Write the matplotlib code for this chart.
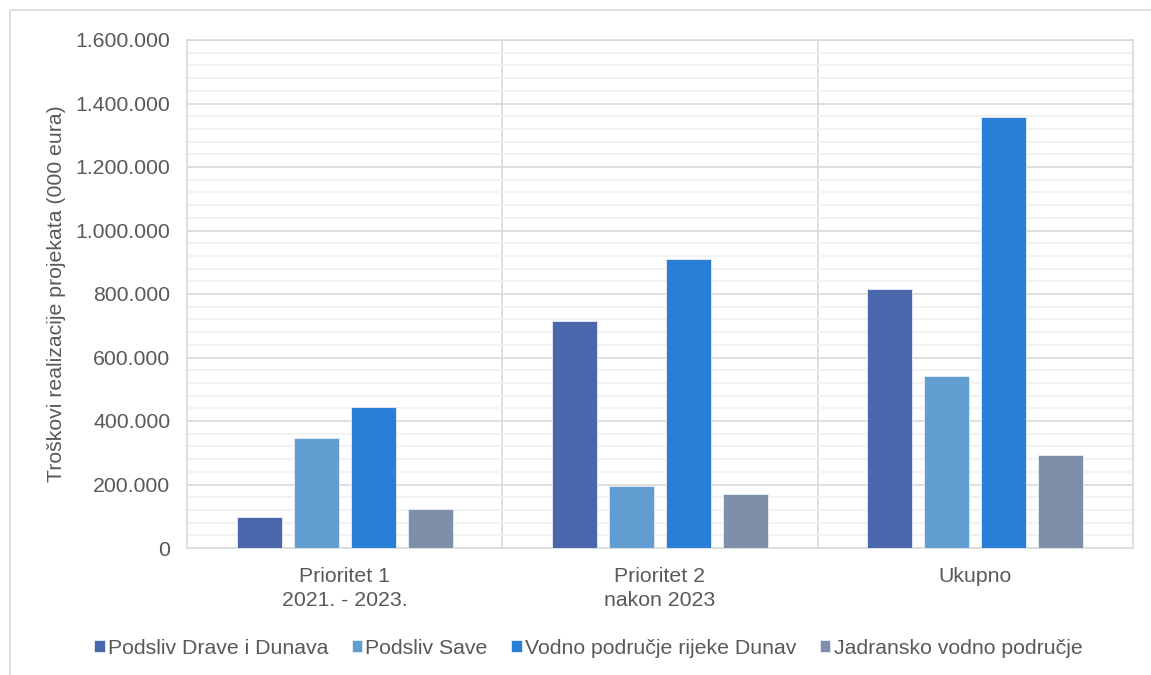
import matplotlib
matplotlib.use("Agg")
import matplotlib.pyplot as plt
import numpy as np
from matplotlib.patches import Rectangle
from matplotlib.ticker import MultipleLocator, FuncFormatter

plt.rcParams['font.family'] = ['Liberation Sans', 'DejaVu Sans']

categories = ['Prioritet 1\n2021. - 2023.', 'Prioritet 2\nnakon 2023', 'Ukupno']
series = ['Podsliv Drave i Dunava', 'Podsliv Save',
          'Vodno područje rijeke Dunav', 'Jadransko vodno područje']
drava_dunav = [98000, 715000, 816000]
sava = [346000, 195000, 542000]
dunav = [444000, 910000, 1357000]
jadran = [123000, 170000, 293000]
colors = ['#4A66AC', '#629DD1', '#297FD5', '#7F8FA9']

text_col = '#595959'
grid_col = '#D9D9D9'
fs = 15.3

fig = plt.figure(figsize=(11.51, 6.75), dpi=100)
ax = fig.add_axes([187 / 1151, 1 - 548 / 675, (1133 - 187) / 1151, (548 - 40) / 675])

# outer chart frame
fig.patches.append(Rectangle((10 / 1151, -0.1), 1.2, 1 - 10 / 675 + 0.1,
                             transform=fig.transFigure, fill=False,
                             edgecolor='#D9D9D9', linewidth=1.2))

x = np.arange(len(categories)) + 0.5
step = 0.181
width = 0.143
for i, (name, vals) in enumerate(zip(series, [drava_dunav, sava, dunav, jadran])):
    ax.bar(x + (i - 1.5) * step, vals, width, color=colors[i], label=name,
           edgecolor='#E8EEF8', linewidth=0.6, zorder=3)

ax.set_xlim(0, 3)
ax.set_ylim(0, 1600000)
ax.yaxis.set_major_locator(MultipleLocator(200000))
ax.yaxis.set_minor_locator(MultipleLocator(40000))
ax.yaxis.set_major_formatter(FuncFormatter(lambda v, p: f'{int(v):,}'.replace(',', '.')))
ax.grid(axis='y', which='major', color=grid_col, linewidth=1.2, zorder=0)
ax.grid(axis='y', which='minor', color='#F0F0F0', linewidth=1.2, zorder=0)
for xv in [1, 2]:
    ax.axvline(xv, color=grid_col, linewidth=1.2, zorder=1)

ax.set_xticks(x)
ax.set_xticklabels(categories, fontsize=fs, color=text_col, linespacing=1.3)
ax.tick_params(axis='both', which='both', length=0, labelsize=fs, labelcolor=text_col)
ax.tick_params(axis='x', pad=14)
ax.tick_params(axis='y', pad=12)
for s in ax.spines.values():
    s.set_color(grid_col)
    s.set_linewidth(1.2)

ax.set_ylabel('Troškovi realizacije projekata (000 eura)', fontsize=fs,
              color=text_col, labelpad=7)

fig.legend(loc='center', bbox_to_anchor=(0.511, 1 - 648 / 675), ncol=4,
           frameon=False, fontsize=fs, handlelength=0.5, handleheight=0.5,
           handletextpad=0.15, columnspacing=1.1, labelcolor=text_col)

fig.savefig('out.png', dpi=100)
